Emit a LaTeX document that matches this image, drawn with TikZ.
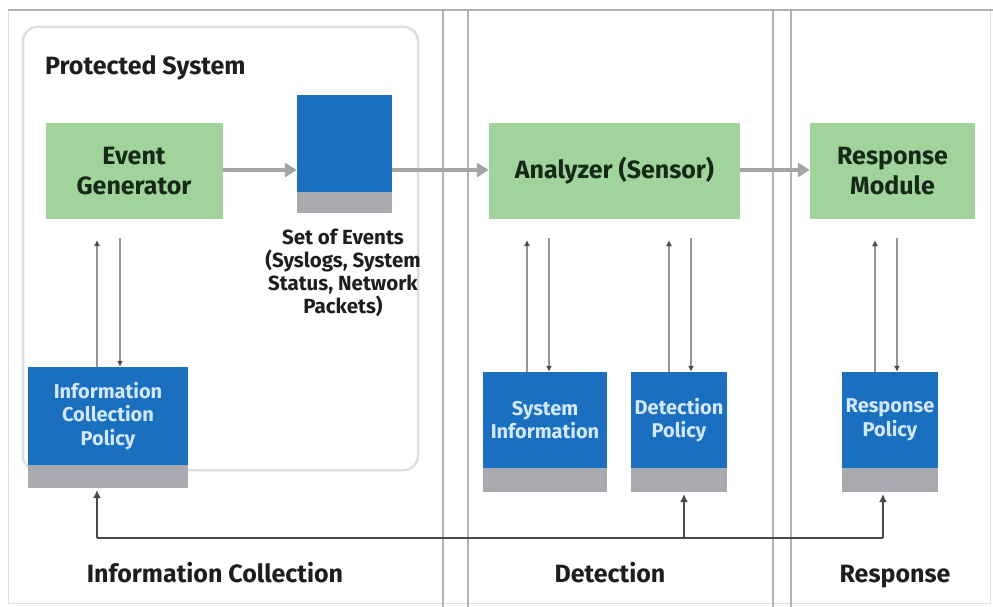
\documentclass[tikz,border=0pt]{standalone}
\usepackage{fontspec}
\setmainfont{Fira Sans}
\usetikzlibrary{arrows.meta}
\definecolor{boxgreen}{RGB}{160,212,156}
\definecolor{boxblue}{RGB}{26,111,190}
\definecolor{stripgray}{RGB}{168,170,176}
\definecolor{flowgray}{RGB}{165,165,165}
\definecolor{thingray}{RGB}{150,150,150}
\definecolor{busgray}{RGB}{75,75,75}
\definecolor{sepgray}{RGB}{178,178,178}
\definecolor{framegray}{RGB}{222,222,222}
\definecolor{bluetext}{RGB}{210,232,255}
\definecolor{greentext}{RGB}{22,40,22}
\definecolor{labeltext}{RGB}{30,30,30}
\tikzset{
  greenbox/.style={fill=boxgreen, inner sep=0pt, align=center, text=greentext,
    font=\bfseries\fontsize{25}{30}\selectfont, minimum height=96pt},
  bluebox/.style={fill=boxblue, inner sep=0pt, align=center, text=bluetext,
    font=\bfseries\fontsize{20}{23.5}\selectfont, minimum height=97pt},
  flow/.style={draw=flowgray, line width=4.5pt, -{Triangle[length=12pt,width=14pt]}},
  link/.style={draw=thingray, line width=2pt, -{Latex[length=6pt,width=6pt,color=busgray]}},
  bus/.style={draw=busgray, line width=2pt},
  busarrow/.style={draw=busgray, line width=2pt, -{Latex[length=8pt,width=8pt]}},
  separator/.style={draw=sepgray, line width=1.5pt},
  phase/.style={text=labeltext, font=\bfseries\fontsize{25}{27}\selectfont, anchor=base},
}
\begin{document}
\begin{tikzpicture}[x=1pt, y=-1pt]
  \useasboundingbox (0,0) rectangle (993,607);
  \fill[white] (0,0) rectangle (993,607);

  % outer frame and column separators
  \draw[framegray, line width=1pt] (8,10) rectangle (990,603);
  \draw[sepgray, line width=2.5pt] (8,10) -- (993,10);
  \foreach \sx in {443,468,773,791}
    \draw[separator] (\sx,10) -- (\sx,607);

  % protected system frame
  \draw[framegray, line width=2.5pt, rounded corners=14pt] (23,27) rectangle (418,470);
  \node[anchor=base west, inner sep=0pt, text=labeltext,
    font=\bfseries\fontsize{25}{27}\selectfont] (ptitle) at (45,75) {Protected System};

  % main processing chain
  \coordinate (flowy) at (0,170);
  \node[greenbox, minimum width=177pt] (gen) at (134,171) {Event\\Generator};
  \node[bluebox, minimum width=95pt] (events) at (344.5,143.5) {};
  \node[greenbox, minimum width=251pt] (ana) at (614.5,171) {Analyzer (Sensor)};
  \node[greenbox, minimum width=165pt] (resp) at (892.5,171) {Response\\Module};

  \node[align=center, inner sep=0pt, text=labeltext,
    font=\bfseries\fontsize{20.5}{23}\selectfont, anchor=north] (evtext) at (343,229)
    {Set of Events\\(Syslogs, System\\Status, Network\\Packets)};

  % policy and information stores
  \node[bluebox, minimum width=160pt, minimum height=98pt] (icp) at (108,416)
    {Information\\Collection\\Policy};
  \node[bluebox, minimum width=124pt, minimum height=96pt] (sysinfo) at (545,420)
    {System\\Information};
  \node[bluebox, minimum width=96pt, minimum height=96pt] (detpol) at (679,420)
    {Detection\\Policy};
  \node[bluebox, minimum width=96pt, minimum height=96pt] (resppol) at (890,420)
    {Response\\Policy};

  % gray base strips under the stores
  \foreach \n/\h in {events/21, icp/23, sysinfo/24, detpol/24, resppol/24}
    \fill[stripgray] (\n.south west) rectangle ([yshift=-\h pt]\n.south east);

  % flow along the chain
  \draw[flow] (gen.east |- flowy) -- (events.west |- flowy);
  \draw[flow] (events.east |- flowy) -- (ana.west |- flowy);
  \draw[flow] (ana.east |- flowy) -- (resp.west |- flowy);

  % exchanges between components and stores
  \coordinate (gu) at (97,240);   \coordinate (gd) at (120,238);
  \coordinate (au) at (527,240);  \coordinate (ad) at (549,238);
  \coordinate (bu) at (669,240);  \coordinate (bd) at (691,238);
  \coordinate (ru) at (875,240);  \coordinate (rd) at (897,238);
  \draw[link] (icp.north -| gu) -- (gu);
  \draw[link] (gd) -- (icp.north -| gd);
  \draw[link] (sysinfo.north -| au) -- (au);
  \draw[link] (ad) -- (sysinfo.north -| ad);
  \draw[link] (detpol.north -| bu) -- (bu);
  \draw[link] (bd) -- (detpol.north -| bd);
  \draw[link] (resppol.north -| ru) -- (ru);
  \draw[link] (rd) -- (resppol.north -| rd);

  % feedback bus along the bottom
  \coordinate (b1) at (97,538);
  \coordinate (b2) at (684,538);
  \coordinate (b3) at (883,538);
  \draw[bus] (b1) -- (b3);
  \draw[busarrow] (b1) -- (97,490);
  \draw[busarrow] (b2) -- (684,494);
  \draw[busarrow] (b3) -- (883,494);

  % phase labels
  \node[phase] (lic) at (215,582) {Information Collection};
  \node[phase] (ldet) at (610,582) {Detection};
  \node[phase] (lresp) at (895,582) {Response};
\end{tikzpicture}
\end{document}
